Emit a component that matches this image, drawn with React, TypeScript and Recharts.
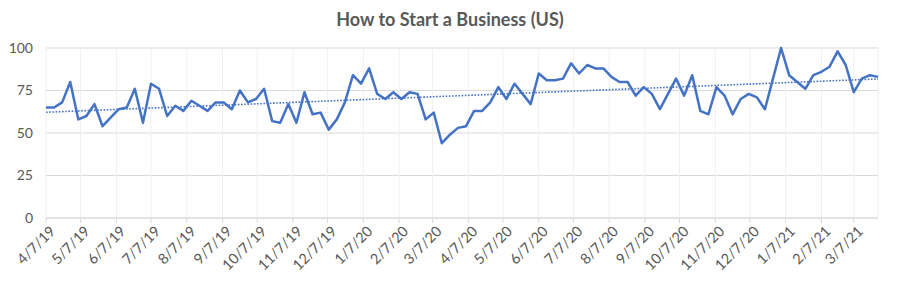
import React from 'react';
import {
    LineChart,
    Line,
    XAxis,
    YAxis,
    CartesianGrid,
    ReferenceLine,
} from 'recharts';

// Weekly search interest, starting 4/7/19
const startDate = '2019-04-07';
const interest = [
    65, 65, 68, 80, 58, 60, 67, 54, 59, 64, 65, 76, 56, 79, 76, 60, 66, 63, 69, 66,
    63, 68, 68, 64, 75, 68, 70, 76, 57, 56, 67, 56, 74, 61, 62, 52, 58, 68, 84, 79,
    88, 73, 70, 74, 70, 74, 73, 58, 62, 44, 49, 53, 54, 63, 63, 68, 77, 70, 79, 73,
    67, 85, 81, 81, 82, 91, 85, 90, 88, 88, 83, 80, 80, 72, 77, 73, 64, 73, 82, 72,
    84, 63, 61, 77, 72, 61, 70, 73, 71, 64, 82, 100, 84, 80, 76, 84, 86, 89, 98, 90,
    74, 82, 84, 83,
];

// Linear trendline, start and end values
const trendValues = [62.2, 81.8];

const monthTicks = [
    '4/7/19', '5/7/19', '6/7/19', '7/7/19', '8/7/19', '9/7/19', '10/7/19', '11/7/19',
    '12/7/19', '1/7/20', '2/7/20', '3/7/20', '4/7/20', '5/7/20', '6/7/20', '7/7/20',
    '8/7/20', '9/7/20', '10/7/20', '11/7/20', '12/7/20', '1/7/21', '2/7/21', '3/7/21',
];

const yTicks = [0, 25, 50, 75, 100];

const DAY = 24 * 3600 * 1000;
const start = Date.UTC(2019, 3, 7);

const toDay = (label: string) => {
    const [m, d, y] = label.split('/').map(Number);
    return Math.round((Date.UTC(2000 + y, m - 1, d) - start) / DAY);
};

const tickDays = monthTicks.map(toDay);
const labelByDay: Record<number, string> = {};
monthTicks.forEach((t, i) => (labelByDay[tickDays[i]] = t));

const data = interest.map((v, i) => ({ day: i * 7, value: v }));
const lastDay = (interest.length - 1) * 7;

const FONT = 'Lato, "Open Sans", sans-serif';
const TEXT = '#595959';

const DateTick = (props: any) => {
    const { x, y, payload } = props;
    return (
        <g transform={`translate(${x + 3},${y})`}>
            <text
                textAnchor="end"
                transform="rotate(-45)"
                dy="0.7em"
                fill={TEXT}
                fontSize={14.5}
                fontFamily={FONT}
            >
                {labelByDay[payload.value]}
            </text>
        </g>
    );
};

export default function App() {
    return (
        <div style={{ position: 'relative', width: 900, height: 288, background: '#fff' }}>
            <style>{`body{margin:0}`}</style>
            <div
                style={{
                    position: 'absolute',
                    top: 5,
                    left: 0,
                    width: 900,
                    textAlign: 'center',
                    fontFamily: FONT,
                    fontWeight: 700,
                    fontSize: 18,
                    lineHeight: '28px',
                    color: TEXT,
                }}
            >
                How to Start a Business (US)
            </div>
            <LineChart
                width={900}
                height={288}
                data={data}
                margin={{ top: 48, right: 22, bottom: 0, left: 0 }}
            >
                <CartesianGrid vertical={false} stroke="#D9D9D9" />
                <CartesianGrid horizontal={false} stroke="#F0F0F0" />
                <XAxis
                    type="number"
                    dataKey="day"
                    domain={[0, lastDay]}
                    ticks={tickDays}
                    interval={0}
                    height={70}
                    tickSize={5}
                    tickMargin={2}
                    axisLine={{ stroke: '#D9D9D9' }}
                    tickLine={{ stroke: '#D9D9D9' }}
                    tick={<DateTick />}
                />
                <YAxis
                    domain={[0, 100]}
                    ticks={yTicks}
                    width={46}
                    axisLine={false}
                    tickLine={false}
                    tickMargin={7}
                    tick={{ fill: TEXT, fontSize: 14, fontFamily: FONT }}
                />
                <ReferenceLine
                    segment={[
                        { x: 0, y: trendValues[0] },
                        { x: lastDay, y: trendValues[1] },
                    ]}
                    stroke="#4472C4"
                    strokeWidth={1.6}
                    strokeDasharray="1.6 1.6"
                />
                <Line
                    type="linear"
                    dataKey="value"
                    stroke="#4472C4"
                    strokeWidth={2.5}
                    strokeLinejoin="round"
                    dot={false}
                    isAnimationActive={false}
                />
            </LineChart>
        </div>
    );
}
